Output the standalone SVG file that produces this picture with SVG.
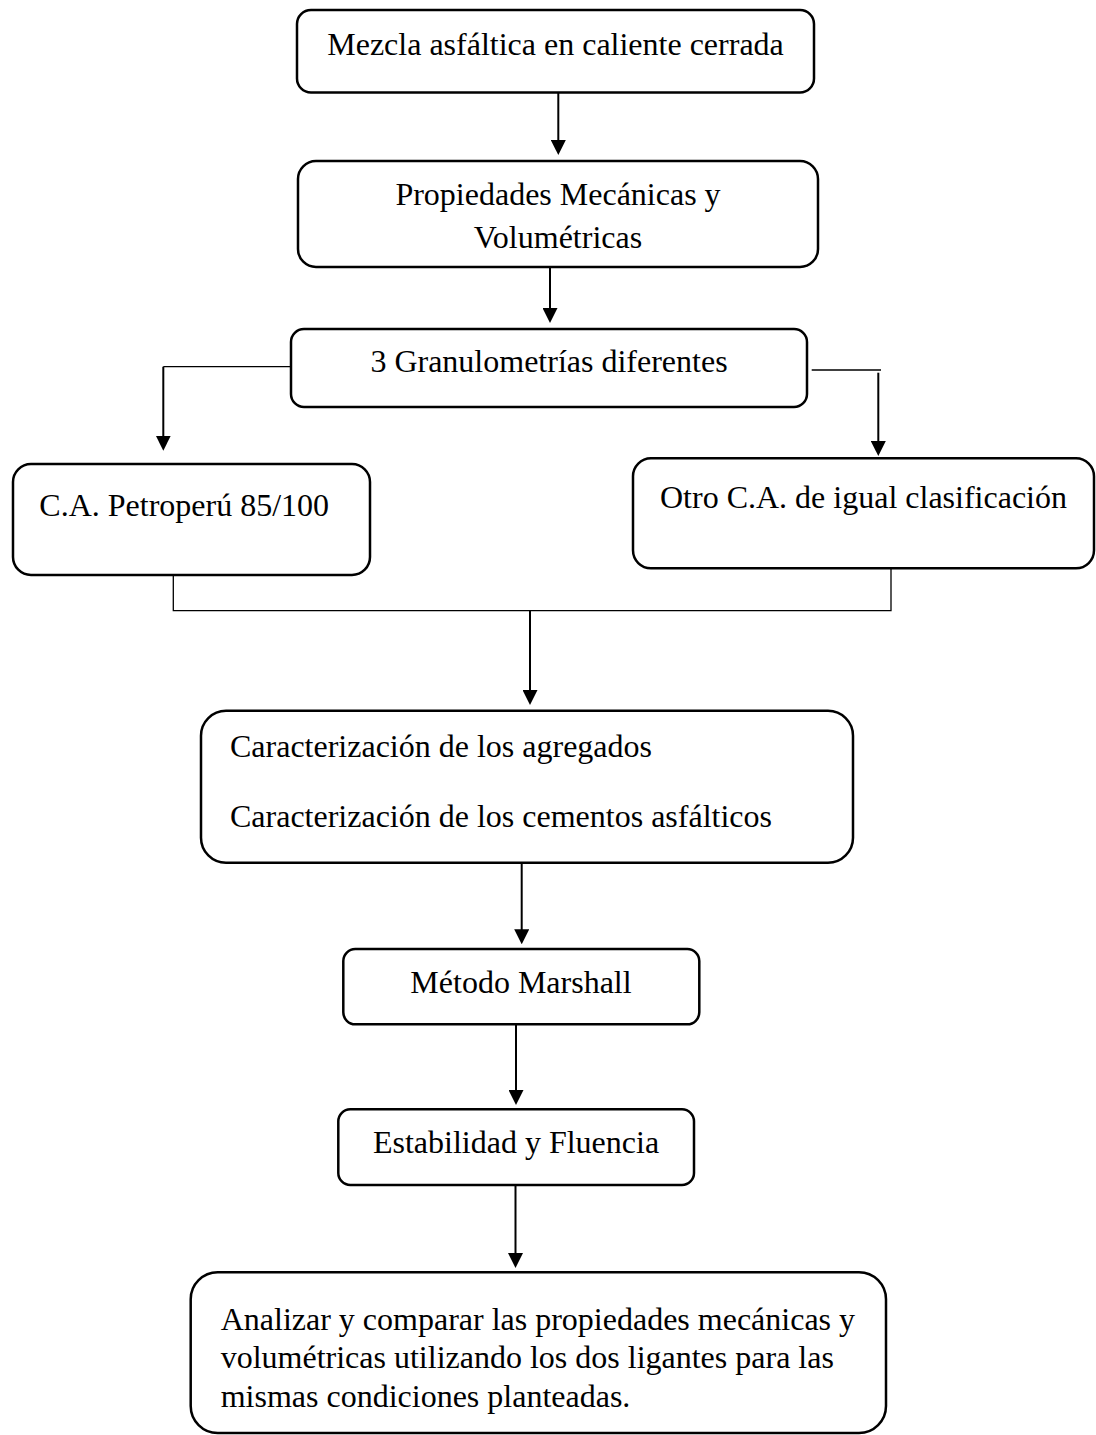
<svg xmlns="http://www.w3.org/2000/svg" width="1096" height="1435" viewBox="0 0 1096 1435">
<style>
.box{fill:#fff;stroke:#000;stroke-width:2.5}
.t{font-family:"Liberation Serif","Times New Roman",serif;font-size:32px;fill:#000}
.c{text-anchor:middle}
.arr{fill:none;stroke:#000;stroke-width:2;marker-end:url(#ah)}
.ln{fill:none;stroke:#000;stroke-width:1.3}
</style>
<defs>
<marker id="ah" markerUnits="userSpaceOnUse" markerWidth="15" markerHeight="15" viewBox="0 0 15 15" refX="7" refY="7.5" orient="auto">
<path d="M0,0 L15,7.5 L0,15 Z" fill="#000"/>
</marker>
</defs>
<rect width="1096" height="1435" fill="#fff"/>
<g id="connectors">
<line class="arr" x1="558.3" y1="93" x2="558.3" y2="147"/>
<line class="arr" x1="550" y1="267" x2="550" y2="315"/>
<polyline class="ln" points="291,366.7 163.3,366.7"/>
<line class="arr" x1="163.3" y1="366.7" x2="163.3" y2="442.7"/>
<polyline class="ln" points="811.7,370 881,370"/>
<line class="arr" x1="878.3" y1="372.7" x2="878.3" y2="448"/>
<polyline class="ln" points="173.3,575 173.3,610.7 891,610.7 891,568.3"/>
<line class="arr" x1="530" y1="610.7" x2="530" y2="697"/>
<line class="arr" x1="521.7" y1="862.3" x2="521.7" y2="936.3"/>
<line class="arr" x1="516" y1="1024.3" x2="516" y2="1097"/>
<line class="arr" x1="515.5" y1="1185" x2="515.5" y2="1260"/>
</g>
<g id="n1">
<rect class="box" x="297" y="10" width="517" height="82.5" rx="14"/>
<text class="t c" x="555.5" y="55">Mezcla asfáltica en caliente cerrada</text>
</g>
<g id="n2">
<rect class="box" x="298" y="161" width="520" height="106" rx="18"/>
<text class="t c" x="558" y="205">Propiedades Mecánicas y</text>
<text class="t c" x="558" y="248">Volumétricas</text>
</g>
<g id="n3">
<rect class="box" x="291" y="329" width="516" height="78" rx="13"/>
<text class="t c" x="549" y="372">3 Granulometrías diferentes</text>
</g>
<g id="n4">
<rect class="box" x="13" y="464" width="357" height="111" rx="18"/>
<text class="t" x="39.3" y="516">C.A. Petroperú 85/100</text>
</g>
<g id="n5">
<rect class="box" x="633" y="458.3" width="461" height="110" rx="18"/>
<text class="t" x="660" y="508.3">Otro C.A. de igual clasificación</text>
</g>
<g id="n6">
<rect class="box" x="201" y="710.7" width="652" height="152" rx="25"/>
<text class="t" x="230" y="756.7">Caracterización de los agregados</text>
<text class="t" x="230" y="826.7">Caracterización de los cementos asfálticos</text>
</g>
<g id="n7">
<rect class="box" x="343.3" y="949" width="356" height="75.3" rx="12"/>
<text class="t c" x="521" y="993.3">Método Marshall</text>
</g>
<g id="n8">
<rect class="box" x="338.3" y="1109.3" width="355.7" height="75.7" rx="12"/>
<text class="t c" x="516" y="1153.3">Estabilidad y Fluencia</text>
</g>
<g id="n9">
<rect class="box" x="190.7" y="1272.3" width="695.3" height="160.7" rx="27"/>
<text class="t" x="220.7" y="1330">Analizar y comparar las propiedades mecánicas y</text>
<text class="t" x="220.7" y="1368.3">volumétricas utilizando los dos ligantes para las</text>
<text class="t" x="220.7" y="1406.7">mismas condiciones planteadas.</text>
</g>
</svg>
